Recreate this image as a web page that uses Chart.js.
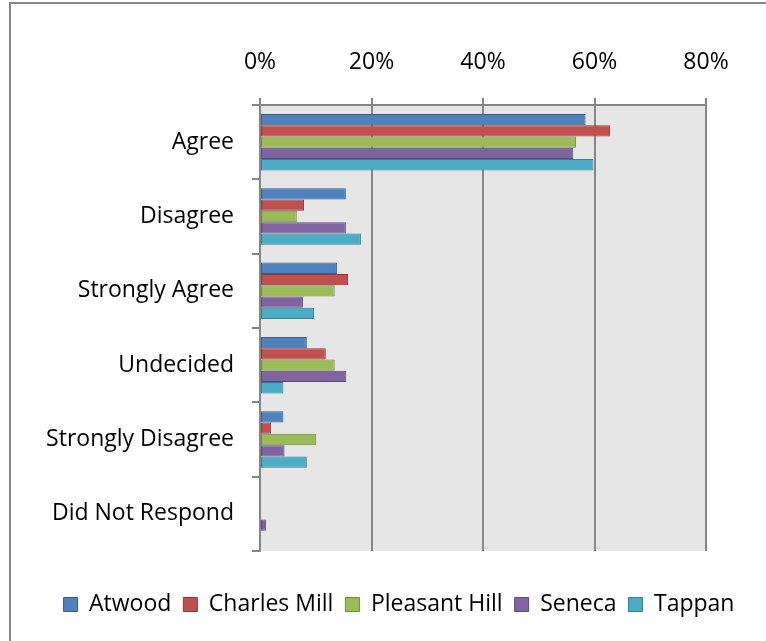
<!DOCTYPE html>
<html>
<head>
<meta charset="utf-8">
<title>Survey responses by school</title>
<script src="https://cdn.jsdelivr.net/npm/chart.js@4.4.0/dist/chart.umd.min.js"></script>
<style>
    body { margin: 0; background: #fff; }
    #wrap { width: 766px; height: 641px; }
</style>
</head>
<body>
<div id="wrap"><canvas id="myChart" width="766" height="641"></canvas></div>
<script>
// answers, top to bottom
const categories = ['Agree', 'Disagree', 'Strongly Agree', 'Undecided', 'Strongly Disagree', 'Did Not Respond'];

// percent of responses per school
const atwood       = [58.4, 15.4, 13.8,  8.4,  4.2, 0];
const charlesMill  = [62.8,  7.9, 15.8, 11.8,  2.0, 0];
const pleasantHill = [56.7,  6.6, 13.4, 13.4, 10.1, 0];
const seneca       = [56.2, 15.4,  7.7, 15.5,  4.4, 1.1];
const tappan       = [59.8, 18.1,  9.7,  4.2,  8.4, 0];

const xTicks = [0, 20, 40, 60, 80];

const gridGray = '#868686';

Chart.defaults.font.family = '"Open Sans", sans-serif';
Chart.defaults.font.size = 23;
Chart.defaults.color = '#000';

// grey plot area + the chart's outer frame
const backdrop = {
    id: 'backdrop',
    beforeDraw(chart) {
        const ctx = chart.ctx;
        const a = chart.chartArea;
        ctx.save();
        ctx.fillStyle = '#e6e6e6';
        ctx.fillRect(a.left, a.top, a.right - a.left, a.bottom - a.top);
        ctx.strokeStyle = gridGray;
        ctx.lineWidth = 2;
        ctx.strokeRect(10, 3, 800, 700);
        ctx.restore();
    }
};

function series(label, data, fill, edge) {
    return {
        label: label,
        data: data,
        backgroundColor: fill,
        borderColor: edge,
        borderWidth: 1,
        borderSkipped: false,
        categoryPercentage: 0.76,
        barPercentage: 1.0
    };
}

const ctx = document.getElementById('myChart');
const myChart = new Chart(ctx, {
    type: 'bar',
    data: {
        labels: categories,
        datasets: [
            series('Atwood', atwood, '#4f81bd', '#385d8a'),
            series('Charles Mill', charlesMill, '#c0504d', '#8c3836'),
            series('Pleasant Hill', pleasantHill, '#9bbb59', '#71893f'),
            series('Seneca', seneca, '#8064a2', '#5c4776'),
            series('Tappan', tappan, '#4bacc6', '#357d91')
        ]
    },
    options: {
        indexAxis: 'y',
        responsive: false,
        animation: false,
        layout: {
            padding: { left: 32, top: 0, right: 0, bottom: 15 }
        },
        scales: {
            x: {
                position: 'top',
                min: xTicks[0],
                max: xTicks[xTicks.length - 1],
                afterBuildTicks: function(scale) {
                    scale.ticks = xTicks.map(v => ({ value: v }));
                },
                afterFit: function(scale) {
                    scale.height = 105;
                },
                ticks: {
                    padding: 22,
                    callback: v => v + '%'
                },
                grid: {
                    color: gridGray,
                    lineWidth: 2,
                    tickLength: 7
                },
                border: { color: gridGray, width: 2 }
            },
            y: {
                afterFit: function(scale) {
                    scale.width = 228;
                },
                ticks: { padding: 18 },
                grid: {
                    offset: true,
                    drawOnChartArea: false,
                    color: gridGray,
                    lineWidth: 2,
                    tickLength: 8
                },
                border: { color: gridGray, width: 2 }
            },
            // empty strip on the right so the plot ends at 80%
            spacer: {
                axis: 'y',
                type: 'category',
                position: 'right',
                afterFit: function(scale) {
                    scale.width = 60;
                },
                ticks: { display: false },
                grid: { display: false },
                border: { display: false }
            }
        },
        plugins: {
            legend: {
                position: 'bottom',
                title: {
                    display: true,
                    text: ' ',
                    font: { size: 10, lineHeight: 1 },
                    padding: { top: 20, bottom: 0 }
                },
                labels: {
                    boxWidth: 14,
                    boxHeight: 14,
                    padding: 12
                }
            },
            tooltip: { enabled: false }
        }
    },
    plugins: [backdrop]
});
</script>
</body>
</html>
